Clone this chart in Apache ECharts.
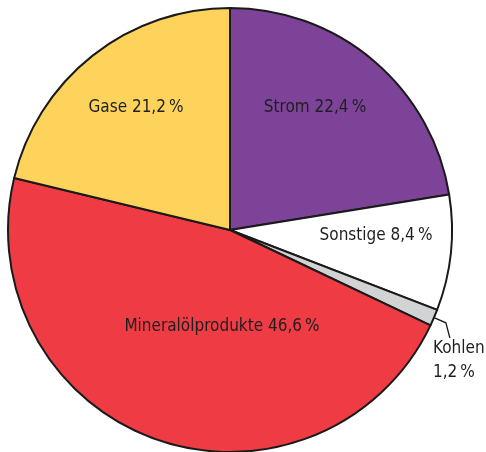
<!DOCTYPE html>
<html>
<head>
<meta charset="utf-8">
<script src="https://cdn.jsdelivr.net/npm/echarts@6/dist/echarts.min.js"></script>
<style>
html,body{margin:0;padding:0;background:#fff;}
#c{width:486px;height:452px;}
</style>
</head>
<body>
<div id="c"></div>
<script>
const categories = ['Strom', 'Sonstige', 'Kohlen', 'Mineralölprodukte', 'Gase'];
const values = [22.4, 8.4, 1.2, 46.6, 21.2];
const valueText = ['22,4', '8,4', '1,2', '46,6', '21,2'];
const colors = ['#7d4398', '#ffffff', '#d1d3d4', '#ee3b44', '#fed35b'];
// label placement (style only)
const labelX = [315, 376, 433, 222, 136];
const labelY = [108, 236, 361, 327, 108];
const labelAlign = ['center', 'center', 'left', 'center', 'center'];

const FONT = '"Liberation Sans Narrow", "DejaVu Sans Condensed", "Roboto Condensed", sans-serif';
const CX = 230, CY = 230, R = 222;

// leader line for the small slice, derived from the data angle
const total = values.reduce((a, b) => a + b, 0);
const kIdx = 2;
const before = values.slice(0, kIdx).reduce((a, b) => a + b, 0);
const theta = 2 * Math.PI * (before + values[kIdx] / 2) / total;
const p0 = [CX + R * Math.sin(theta), CY - R * Math.cos(theta)];
const p1 = [CX + (R + 13) * Math.sin(theta), CY - (R + 13) * Math.cos(theta)];
const p2 = [p1[0] + 4, 338];

const chart = echarts.init(document.getElementById('c'), null, {renderer: 'canvas'});
chart.setOption({
  animation: false,
  backgroundColor: '#ffffff',
  series: [{
    type: 'pie',
    center: [CX, CY],
    radius: R,
    startAngle: 90,
    clockwise: true,
    avoidLabelOverlap: false,
    data: categories.map((c, i) => ({
      name: c,
      value: values[i],
      itemStyle: {color: colors[i]},
      label: i === kIdx ? {
        position: 'outside',
        formatter: c + '\n' + valueText[i] + '\u2009%',
        lineHeight: 24
      } : {
        position: 'inside',
        formatter: c + ' ' + valueText[i] + '\u2009%'
      },
      labelLine: {show: false}
    })),
    itemStyle: {borderColor: '#1a1a1a', borderWidth: 2},
    label: {
      color: '#1f1f1f',
      fontFamily: FONT,
      fontSize: 17
    },
    labelLayout: function (p) {
      const i = p.dataIndex;
      return {x: labelX[i], y: labelY[i], align: labelAlign[i], verticalAlign: 'middle', hideOverlap: false};
    },
    emphasis: {disabled: true}
  }],
  graphic: [{
    type: 'polyline',
    shape: {points: [p0, p1, p2]},
    style: {stroke: '#1a1a1a', lineWidth: 1.3, fill: null},
    z: 10
  }]
});
</script>
</body>
</html>
